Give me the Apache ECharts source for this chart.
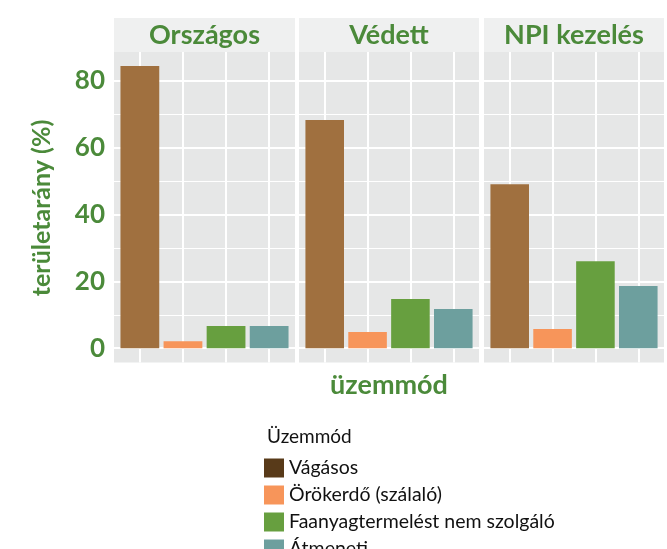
<!DOCTYPE html>
<html>
<head>
<meta charset="utf-8">
<script src="https://cdn.jsdelivr.net/npm/echarts@6/dist/echarts.min.js"></script>
<style>
  html, body { margin: 0; padding: 0; background: #fff; }
  #chart { width: 667px; height: 549px; }
</style>
</head>
<body>
<div id="chart"></div>
<script>
// facet panels and management modes
const panels = ['Országos', 'Védett', 'NPI kezelés']
const modes = ['Vágásos', 'Örökerdő (szálaló)', 'Faanyagtermelést nem szolgáló', 'Átmeneti']
// area share (%) per panel
const vagasos = [84.5, 68.3, 49.1]
const orokerdo = [2.1, 4.8, 5.7]
const faanyag = [6.6, 14.7, 26.0]
const atmeneti = [6.6, 11.7, 18.6]
const yTicks = [0, 20, 40, 60, 80]

const values = [vagasos, orokerdo, faanyag, atmeneti]
const barColors = ['#a0703f', '#f7955a', '#679f3f', '#6d9f9e']
const legendColors = ['#583a19', '#f7955a', '#679f3f', '#6d9f9e']
const green = '#4b8a3a'
const font = 'Lato'

const gridLeft = [114, 299, 484]
const gridWidth = [181, 180, 180]

const chart = echarts.init(document.getElementById('chart'))

const grids = []
const xAxes = []
const yAxes = []
const series = []
const graphics = []

panels.forEach((p, i) => {
  grids.push({
    left: gridLeft[i], width: gridWidth[i], top: 52, height: 310.5,
    show: true, backgroundColor: '#e6e7e7', borderWidth: 0
  })
  xAxes.push({
    type: 'value', gridIndex: i, min: 0.4, max: 4.6,
    axisLine: { show: false }, axisTick: { show: false }, axisLabel: { show: false },
    splitLine: { show: true, showMinLine: false, showMaxLine: false, lineStyle: { color: '#fff', width: 2 } },
    name: i === 1 ? 'üzemmód' : '',
    nameLocation: 'middle', nameGap: 9,
    nameTextStyle: { color: green, fontFamily: font, fontWeight: 'bold', fontSize: 27, verticalAlign: 'top' }
  })
  yAxes.push({
    type: 'value', gridIndex: i, min: -4.3, max: 88.7,
    axisLine: { show: false }, axisTick: { show: false },
    axisLabel: {
      show: i === 0, margin: 9, color: green, fontFamily: font, fontWeight: 'bold', fontSize: 26,
      showMinLabel: false, showMaxLabel: false,
      formatter: v => (yTicks.indexOf(v) >= 0 ? String(v) : '')
    },
    splitLine: { show: true, showMinLine: false, showMaxLine: false, lineStyle: { color: '#fff', width: 2 } },
    minorTick: { show: false, splitNumber: 2 },
    minorSplitLine: { show: true, lineStyle: { color: '#fff', width: 1 } }
  })
  modes.forEach((m, j) => {
    series.push({
      type: 'bar', name: m, xAxisIndex: i, yAxisIndex: i,
      barWidth: '90%', barGap: '-100%',
      itemStyle: { color: barColors[j] },
      data: [[j + 1, values[j][i]]],
      silent: true
    })
  })
  graphics.push({
    type: 'rect', shape: { x: gridLeft[i], y: 18, width: gridWidth[i], height: 34 },
    style: { fill: '#eff0f0' }, z: -1
  })
  graphics.push({
    type: 'text', x: gridLeft[i] + gridWidth[i] / 2, y: 35,
    style: { text: p, align: 'center', verticalAlign: 'middle', fill: green, font: 'bold 27px ' + font }
  })
})

// y axis title
graphics.push({
  type: 'text', x: 42, y: 208, rotation: Math.PI / 2,
  style: { text: 'területarány (%)', align: 'center', verticalAlign: 'middle', fill: green, font: 'bold 25px ' + font }
})
// legend title
graphics.push({
  type: 'text', x: 267, y: 437,
  style: { text: 'Üzemmód', align: 'left', verticalAlign: 'middle', fill: '#111', font: '19px ' + font }
})

chart.setOption({
  animation: false,
  grid: grids,
  xAxis: xAxes,
  yAxis: yAxes,
  graphic: graphics,
  legend: {
    orient: 'vertical', left: 264, top: 458, height: 300, padding: 0,
    itemWidth: 20, itemHeight: 19, itemGap: 7, icon: 'rect',
    textStyle: { color: '#111', fontFamily: font, fontSize: 19.5 },
    data: modes.map((m, j) => ({ name: m, itemStyle: { color: legendColors[j] } })),
    selectedMode: false
  },
  series: series
})
</script>
</body>
</html>
